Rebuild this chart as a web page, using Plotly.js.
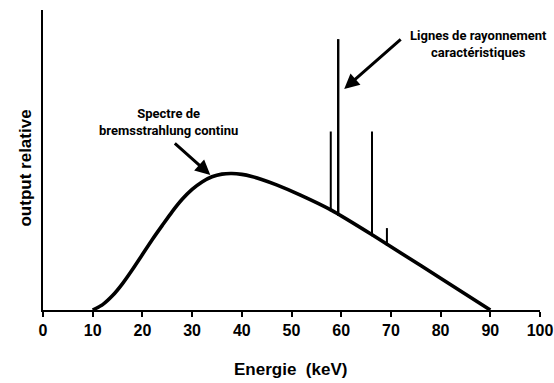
<!DOCTYPE html>
<html>
<head>
<meta charset="utf-8">
<script src="https://cdn.plot.ly/plotly-3.0.1.min.js"></script>
<style>
  html, body { margin: 0; padding: 0; background: #fff; }
  #chart { width: 554px; height: 383px; }
</style>
</head>
<body>
<div id="chart"></div>
<script>
// Continuous bremsstrahlung spectrum (relative output vs photon energy, keV)
const spectrumEnergy = [10, 12, 14, 16, 18, 20, 22, 24, 26, 28, 30, 32, 34, 36, 38, 40, 42, 44, 47, 51.8, 58, 66.3, 72, 80, 90];
const spectrumOutput = [0, 1.8, 4.8, 8.8, 13.5, 18.5, 23.5, 28.2, 32.8, 36.9, 40.2, 42.7, 44.4, 45.3, 45.5, 45.2, 44.5, 43.5, 41.7, 38.3, 33.3, 25, 19, 10.6, 0];

// Characteristic emission lines (energy, peak height)
const lineEnergy = [57.9, 59.4, 66.2, 69.2];
const lineTop    = [59.5, 90.3, 59.5, 27.3];

// Axis ticks
const tickValues = [0, 10, 20, 30, 40, 50, 60, 70, 80, 90, 100];
const tickLabels = ['0', '10', '20', '30', '40', '50', '60', '70', '80', '90', '100'];

// Level of the continuum under a given energy (linear between samples)
function continuumAt(e) {
  for (let i = 0; i < spectrumEnergy.length - 1; i++) {
    const e0 = spectrumEnergy[i], e1 = spectrumEnergy[i + 1];
    if (e >= e0 && e <= e1) {
      const t = (e - e0) / (e1 - e0);
      return spectrumOutput[i] + t * (spectrumOutput[i + 1] - spectrumOutput[i]);
    }
  }
  return 0;
}

const traces = [];

lineEnergy.forEach((e, i) => {
  traces.push({
    type: 'scatter',
    mode: 'lines',
    x: [e, e],
    y: [continuumAt(e) - 0.5, lineTop[i]],
    line: { color: '#000', width: i === 1 ? 2.4 : 2 },
    hoverinfo: 'skip',
    showlegend: false
  });
});

traces.push({
  type: 'scatter',
  mode: 'lines',
  x: spectrumEnergy,
  y: spectrumOutput,
  line: { color: '#000', width: 3.6, shape: 'spline', smoothing: 0.6 },
  hoverinfo: 'skip',
  showlegend: false
});

// paper-coordinate helpers for the plot box (left 42.5px, width 497.5px, bottom 310px, height 300px)
const px = v => (v - 42.5) / 497.5;
const py = v => (310 - v) / 300;

const labelFont = { family: 'Roboto, "Liberation Sans", sans-serif', size: 13, color: '#000', weight: 'bold' };

const layout = {
  width: 554,
  height: 383,
  margin: { l: 42.5, r: 14, t: 10, b: 73, pad: 0 },
  paper_bgcolor: '#fff',
  plot_bgcolor: '#fff',
  showlegend: false,
  xaxis: {
    range: [0, 100],
    tickvals: tickValues,
    ticktext: tickLabels,
    ticks: 'outside',
    ticklen: 5,
    tickwidth: 2,
    tickcolor: '#000',
    showline: true,
    linecolor: '#000',
    linewidth: 2,
    showgrid: false,
    zeroline: false,
    tickfont: { family: '"Liberation Sans", Arial, sans-serif', size: 16, color: '#000', weight: 'bold' },
    fixedrange: true
  },
  yaxis: {
    range: [0, 100],
    showticklabels: false,
    ticks: '',
    showline: true,
    linecolor: '#000',
    linewidth: 2,
    showgrid: false,
    zeroline: false,
    fixedrange: true
  },
  annotations: [
    {
      xref: 'paper', yref: 'paper', x: px(290), y: py(369),
      xanchor: 'center', yanchor: 'middle', showarrow: false,
      text: 'Energie\u00a0\u00a0<b>(keV)</b>',
      font: { family: '"Liberation Sans", Arial, sans-serif', size: 17, color: '#000', weight: 'bold' }
    },
    {
      xref: 'paper', yref: 'paper', x: px(25), y: py(168),
      xanchor: 'center', yanchor: 'middle', showarrow: false, textangle: -90,
      text: 'output relative',
      font: { family: '"Liberation Sans", Arial, sans-serif', size: 17, color: '#000', weight: 'bold' }
    },
    {
      xref: 'paper', yref: 'paper', x: px(168), y: py(121.5),
      xanchor: 'center', yanchor: 'middle', showarrow: false,
      text: 'Spectre de<br>bremsstrahlung continu',
      font: labelFont
    },
    {
      xref: 'paper', yref: 'paper', x: px(478), y: py(44),
      xanchor: 'center', yanchor: 'middle', showarrow: false,
      text: 'Lignes de rayonnement<br>caractéristiques',
      font: labelFont
    },
    {
      xref: 'paper', yref: 'paper', x: px(210), y: py(175),
      text: '', showarrow: true, arrowhead: 2, arrowsize: 1, arrowwidth: 3,
      arrowcolor: '#000', ax: -37, ay: -33, standoff: 0
    },
    {
      xref: 'paper', yref: 'paper', x: px(344), y: py(89),
      text: '', showarrow: true, arrowhead: 2, arrowsize: 1, arrowwidth: 3,
      arrowcolor: '#000', ax: 58, ay: -51, standoff: 0
    }
  ]
};

Plotly.newPlot('chart', traces, layout, { staticPlot: true, displayModeBar: false });
</script>
</body>
</html>
